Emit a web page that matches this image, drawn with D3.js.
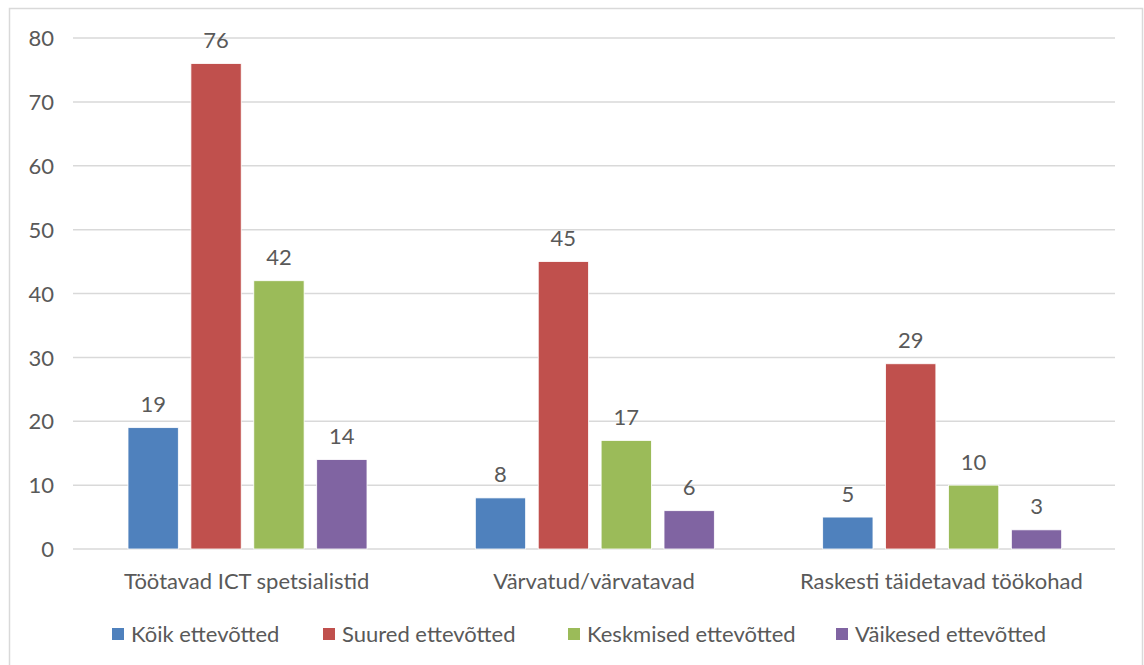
<!DOCTYPE html>
<html><head><meta charset="utf-8">
<script src="https://d3js.org/d3.v7.min.js"></script>
<style>body{margin:0;background:#fff}svg text{font-family:Lato,"Open Sans",sans-serif;fill:#595959}</style>
</head><body><svg id="c" width="1144" height="665"></svg>
<script>
const categories = ["Töötavad ICT spetsialistid", "Värvatud/värvatavad", "Raskesti täidetavad töökohad"];
const seriesNames = ["Kõik ettevõtted", "Suured ettevõtted", "Keskmised ettevõtted", "Väikesed ettevõtted"];
const koik = [19, 8, 5];
const suured = [76, 45, 29];
const keskmised = [42, 17, 10];
const vaikesed = [14, 6, 3];
const yTicks = [0, 10, 20, 30, 40, 50, 60, 70, 80];
const colors = ["#4f81bd", "#c0504d", "#9bbb59", "#8064a2"];
const seriesVals = [koik, suured, keskmised, vaikesed];
const FS = 22;

const svg = d3.select("#c");
svg.append("rect").attr("x", 9.5).attr("y", 8.5).attr("width", 1133).attr("height", 670)
  .attr("fill", "#fff").attr("stroke", "#d9d9d9").attr("stroke-width", 1.5);

const y = d3.scaleLinear().domain([0, 80]).range([549, 38]);
const x0 = d3.scaleBand().domain(categories).range([73, 1115]);
const x1 = d3.scaleBand().domain(seriesNames).range([55, 294]).paddingInner(0.2);

const g = svg.append("g");
g.selectAll("line.grid").data(yTicks).join("line").attr("class", "grid")
  .attr("x1", 73).attr("x2", 1115).attr("y1", d => y(d)).attr("y2", d => y(d))
  .attr("stroke", "#d9d9d9").attr("stroke-width", 1.5);

const yAxis = d3.axisLeft(y).tickValues(yTicks).tickSize(0).tickPadding(0);
const ya = svg.append("g").attr("transform", "translate(54,0)").call(yAxis);
ya.select(".domain").remove();
ya.selectAll("text").attr("font-size", FS).attr("dy", "0.35em").style("font-family", "Lato,sans-serif").attr("fill", "#595959");

const xAxis = d3.axisBottom(x0).tickSize(0).tickPadding(0);
const xa = svg.append("g").attr("transform", "translate(0,581)").call(xAxis);
xa.select(".domain").remove();
xa.selectAll("text").attr("font-size", FS).attr("dy", "0.35em").style("font-family", "Lato,sans-serif").attr("fill", "#595959");

seriesNames.forEach((s, si) => {
  const gg = svg.append("g");
  gg.selectAll("rect").data(categories).join("rect")
    .attr("x", c => x0(c) + x1(s)).attr("width", x1.bandwidth())
    .attr("y", (c, i) => y(seriesVals[si][i])).attr("height", (c, i) => y(0) - y(seriesVals[si][i]))
    .attr("fill", colors[si]).attr("stroke", "#fff").attr("stroke-width", 0.8);
  gg.selectAll("text").data(categories).join("text")
    .attr("x", c => x0(c) + x1(s) + x1.bandwidth() / 2)
    .attr("y", (c, i) => y(seriesVals[si][i]) - 15.5)
    .attr("text-anchor", "middle").attr("font-size", FS)
    .text((c, i) => seriesVals[si][i]);
});

const legX = [112, 323, 568, 836];
const lg = svg.append("g");
seriesNames.forEach((s, i) => {
  lg.append("rect").attr("x", legX[i]).attr("y", 628).attr("width", 12).attr("height", 12).attr("fill", colors[i]);
  lg.append("text").attr("x", legX[i] + 19).attr("y", 634).attr("dy", "0.35em").attr("font-size", FS).text(s);
});
</script></body></html>
